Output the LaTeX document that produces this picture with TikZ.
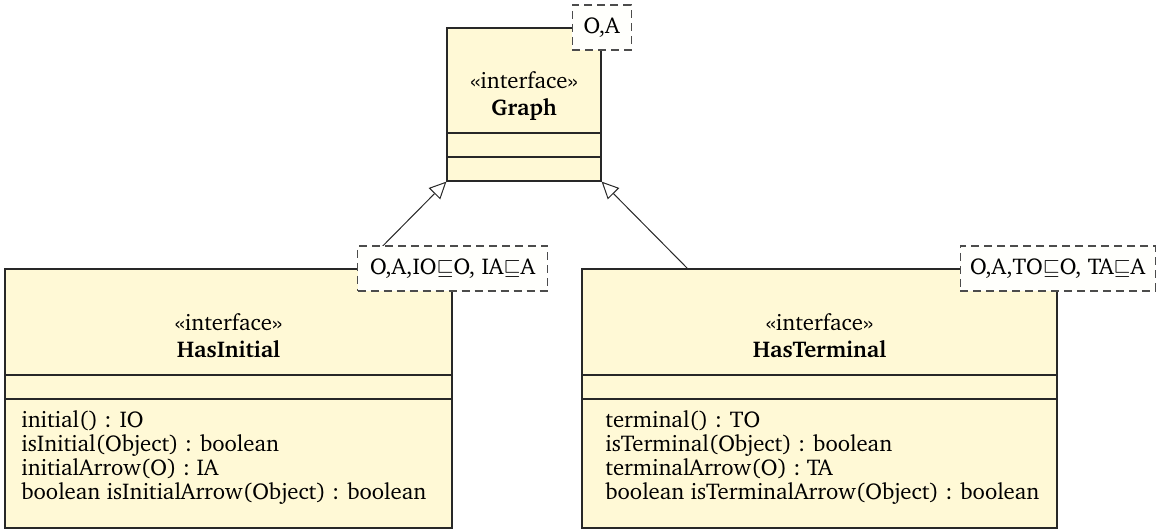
\documentclass[tikz,border=0pt]{standalone}
\usepackage[T1]{fontenc}
\usepackage{charter}
\usetikzlibrary{arrows.meta,fit}
\definecolor{classfill}{RGB}{255,249,214}
\definecolor{notefill}{RGB}{255,255,252}
\definecolor{edge}{RGB}{40,40,40}
\newcommand{\stereotype}{\guillemotleft interface\guillemotright}
\newcommand{\diagfont}{\fontsize{11.4pt}{13.7pt}\selectfont}
\begin{document}
\begin{tikzpicture}[x=0.5pt,y=-0.5pt,
  every node/.style={font=\diagfont},
  classbox/.style={draw=edge, line width=0.6pt, fill=classfill, inner sep=0pt},
  divider/.style={draw=edge, line width=0.6pt},
  stereo/.style={anchor=base, inner sep=0pt},
  classname/.style={anchor=base, inner sep=0pt, font=\diagfont\bfseries},
  member/.style={anchor=base west, inner sep=0pt},
  umlnote/.style={draw=black!70, dash pattern=on 4pt off 2.5pt, line width=0.6pt,
    fill=notefill, minimum height=22.5pt, inner sep=0pt},
  inherit/.style={draw=edge, line width=0.5pt,
    -{Triangle[open, length=8.5pt, width=8pt, fill=white]}}
]
\useasboundingbox (0,0) rectangle (1157,531);

% interface Graph
\node[classbox, fit={(447,28) (601,181)}] (graph) {};
\draw[divider] (447,133) -- (601,133);
\draw[divider] (447,157) -- (601,157);
\node[stereo] (graphstereo) at (524,88) {\stereotype};
\node[classname] (graphname) at (524,115) {Graph};

% interface HasInitial
\node[classbox, fit={(5,269) (452,528)}] (hasinitial) {};
\draw[divider] (5,375) -- (452,375);
\draw[divider] (5,399) -- (452,399);
\node[stereo] (initstereo) at (228.5,330) {\stereotype};
\node[classname] (initname) at (228.5,357) {HasInitial};
\node[member] (initm1) at (21,427) {initial() : IO};
\node[member] (initm2) at (21,451) {isInitial(Object) : boolean};
\node[member] (initm3) at (21,475) {initialArrow(O) : IA};
\node[member] (initm4) at (21,499) {boolean isInitialArrow(Object) : boolean};

% interface HasTerminal
\node[classbox, fit={(582,269) (1057,528)}] (hasterminal) {};
\draw[divider] (582,375) -- (1057,375);
\draw[divider] (582,399) -- (1057,399);
\node[stereo] (termstereo) at (819.5,330) {\stereotype};
\node[classname] (termname) at (819.5,357) {HasTerminal};
\node[member] (termm1) at (605,427) {terminal() : TO};
\node[member] (termm2) at (605,451) {isTerminal(Object) : boolean};
\node[member] (termm3) at (605,475) {terminalArrow(O) : TA};
\node[member] (termm4) at (605,499) {boolean isTerminalArrow(Object) : boolean};

% generalisations
\coordinate (initfoot) at (360,269);
\coordinate (termfoot) at (688,269);
\draw[inherit] (initfoot) -- (graph.south west);
\draw[inherit] (termfoot) -- (graph.south east);

% template parameter notes
\node[umlnote, minimum width=29.5pt] (graphnote) at (graph.north east) {O,A};
\node[umlnote, minimum width=95pt] (initnote) at (hasinitial.north east)
  {O,A,IO$\sqsubseteq$O, IA$\sqsubseteq$A};
\node[umlnote, minimum width=97.5pt] (termnote) at (hasterminal.north east)
  {O,A,TO$\sqsubseteq$O, TA$\sqsubseteq$A};
\end{tikzpicture}
\end{document}
